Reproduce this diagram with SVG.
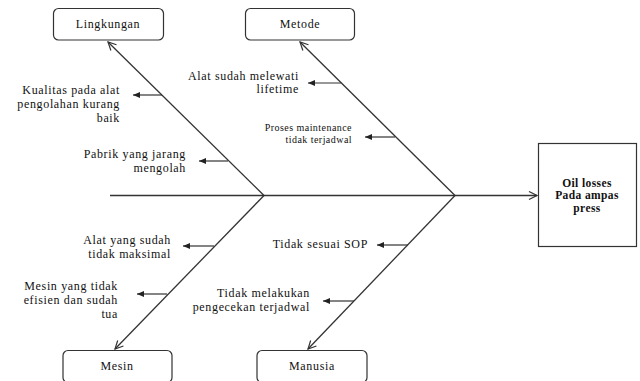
<svg xmlns="http://www.w3.org/2000/svg" width="640" height="381" viewBox="0 0 640 381">
<style>
.box{fill:#fff;stroke:#333;stroke-width:1.2}
.ln{stroke:#333;stroke-width:1.3;fill:none}
.sub{stroke:#333;stroke-width:1.2;fill:none}
.t{font-family:"Liberation Serif",serif;font-size:12px;fill:#111;letter-spacing:0.65px}
.r{text-anchor:end}
.c{text-anchor:middle}
.s{font-size:10px;letter-spacing:0.45px}
.b{font-weight:bold;font-size:11.5px;letter-spacing:0.4px}
</style>
<defs>
<marker id="open" markerUnits="userSpaceOnUse" markerWidth="12" markerHeight="12" refX="9" refY="5" orient="auto">
<path d="M1,1 L9,5 L1,9" fill="none" stroke="#333" stroke-width="1.2"/>
</marker>
<marker id="fill" markerUnits="userSpaceOnUse" markerWidth="10" markerHeight="8" refX="7" refY="3" orient="auto">
<path d="M0,0 L7,3 L0,6 Z" fill="#222"/>
</marker>
</defs>
<rect width="640" height="381" fill="#fff"/>
<g id="connectors">
<line class="ln" x1="110" y1="195.5" x2="537" y2="195.5" marker-end="url(#open)"/>
<line class="ln" x1="264" y1="195.5" x2="108" y2="42" marker-end="url(#open)"/>
<line class="ln" x1="455" y1="195.5" x2="300" y2="42" marker-end="url(#open)"/>
<line class="ln" x1="264" y1="195.5" x2="115" y2="349" marker-end="url(#open)"/>
<line class="ln" x1="455" y1="195.5" x2="308" y2="349" marker-end="url(#open)"/>
<line class="sub" x1="162" y1="95" x2="133" y2="95" marker-end="url(#fill)"/>
<line class="sub" x1="228" y1="161" x2="199" y2="161" marker-end="url(#fill)"/>
<line class="sub" x1="341" y1="83" x2="308" y2="83" marker-end="url(#fill)"/>
<line class="sub" x1="395" y1="137" x2="365" y2="137" marker-end="url(#fill)"/>
<line class="sub" x1="214" y1="246" x2="183" y2="246" marker-end="url(#fill)"/>
<line class="sub" x1="167" y1="294" x2="137" y2="294" marker-end="url(#fill)"/>
<line class="sub" x1="408" y1="245" x2="377" y2="245" marker-end="url(#fill)"/>
<line class="sub" x1="354" y1="301" x2="323" y2="301" marker-end="url(#fill)"/>
</g>
<g id="lingkungan">
<rect class="box" x="53.5" y="8.5" width="110" height="31.5" rx="5"/>
<text class="t c" x="108" y="28">Lingkungan</text>
</g>
<g id="metode">
<rect class="box" x="245.5" y="8.5" width="109" height="31.5" rx="5"/>
<text class="t c" x="300" y="28">Metode</text>
</g>
<g id="mesin">
<rect class="box" x="63" y="350.5" width="109" height="32" rx="5"/>
<text class="t c" x="117" y="370">Mesin</text>
</g>
<g id="manusia">
<rect class="box" x="257" y="350.5" width="110" height="32" rx="5"/>
<text class="t c" x="312" y="370">Manusia</text>
</g>
<g id="effect">
<rect class="box" x="538.5" y="143.5" width="98" height="103" rx="0"/>
<text class="t c b" x="587" y="187">Oil losses</text>
<text class="t c b" x="587" y="199">Pada ampas</text>
<text class="t c b" x="587" y="212">press</text>
</g>
<g id="cause-kualitas">
<text class="t r" x="120" y="94">Kualitas pada alat</text>
<text class="t r" x="120" y="108">pengolahan kurang</text>
<text class="t r" x="120" y="122">baik</text>
</g>
<g id="cause-pabrik">
<text class="t r" x="186" y="158">Pabrik yang jarang</text>
<text class="t r" x="186" y="172">mengolah</text>
</g>
<g id="cause-alat-lifetime">
<text class="t r" x="299" y="80">Alat sudah melewati</text>
<text class="t r" x="299" y="93">lifetime</text>
</g>
<g id="cause-proses">
<text class="t r s" x="352" y="131">Proses maintenance</text>
<text class="t r s" x="352" y="143">tidak terjadwal</text>
</g>
<g id="cause-alat-maksimal">
<text class="t r" x="171" y="244">Alat yang sudah</text>
<text class="t r" x="171" y="258">tidak maksimal</text>
</g>
<g id="cause-mesin-tua">
<text class="t r" x="118" y="290">Mesin yang tidak</text>
<text class="t r" x="118" y="304">efisien dan sudah</text>
<text class="t r" x="118" y="318">tua</text>
</g>
<g id="cause-sop">
<text class="t r" x="368" y="248">Tidak sesuai SOP</text>
</g>
<g id="cause-pengecekan">
<text class="t r" x="310" y="297">Tidak melakukan</text>
<text class="t r" x="310" y="311">pengecekan terjadwal</text>
</g>
</svg>
